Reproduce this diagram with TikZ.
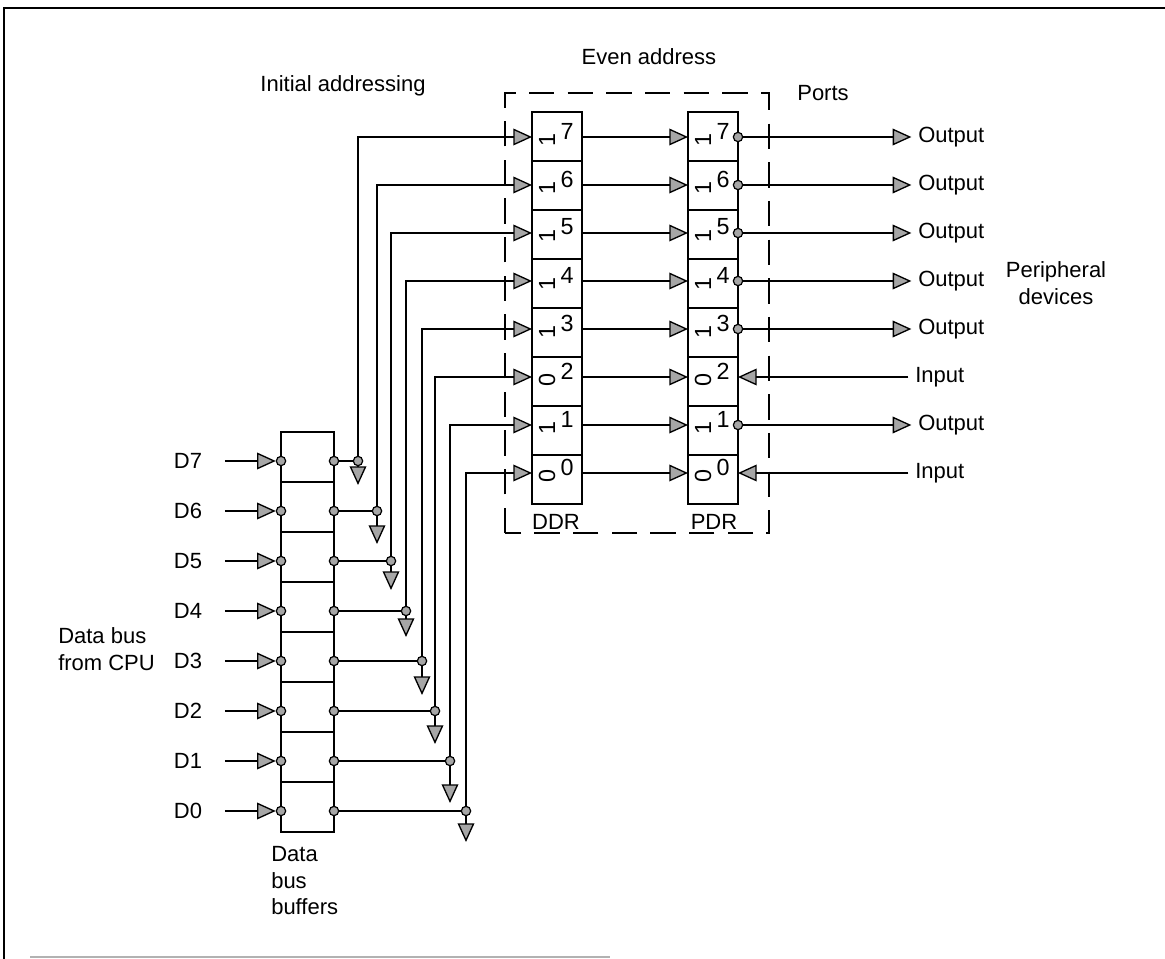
\documentclass[tikz,border=0pt]{standalone}
\usepackage{fontspec}
\setmainfont{Liberation Sans}
\usetikzlibrary{arrows.meta}
\begin{document}
\begin{tikzpicture}[x=0.75pt,y=-0.75pt,
  wire/.style={line width=1.7pt},
  tri/.style={-{Triangle[length=14pt,width=12.5pt,fill=gray!70,line width=1pt]}},
  pin/.style={circle,draw,fill=gray!70,line width=0.9pt,inner sep=0pt,minimum size=7pt},
  cell/.style={draw,line width=2pt,minimum width=37.5pt,minimum height=36.75pt,inner sep=0pt},
  bcell/.style={draw,line width=2pt,minimum width=39.75pt,minimum height=37.5pt,inner sep=0pt},
  lbl/.style={font=\fontsize{16.5}{20}\selectfont,inner sep=0pt},
  bitf/.style={font=\fontsize{17.5}{21}\selectfont,inner sep=0pt},
  dashbox/.style={line width=1.8pt,dash pattern=on 19pt off 10pt}
]
\useasboundingbox (0,0) rectangle (1165,959);
% frame
\draw[line width=2pt] (1165,8) -- (4,8) -- (4,959);
\draw[line width=1pt,gray!60] (30,957) -- (610,957);

% titles
\node[lbl] (even) at (649,57) {Even address};
\node[lbl] (init) at (343,86) {Initial addressing};
\node[lbl] (ports) at (823,93) {Ports};
\node[lbl,align=center] (periph) at (1056,283) {Peripheral\\devices};
\node[lbl,align=left,anchor=west] (cpu) at (58,649) {Data bus\\from CPU};
\node[lbl,align=left,anchor=north west] (bufl) at (271,846) {Data\\bus\\buffers};
\node[lbl] (ddrl) at (556,522) {DDR};
\node[lbl] (pdrl) at (714,522) {PDR};

% dashed box
\draw[dashbox] (505,533) -- (505,93) -- (769,93) -- (769,533) -- cycle;

\foreach \i/\b/\off/\jx in {7/1/6/358, 6/1/15/377, 5/1/11/391, 4/1/8/406, 3/1/16/422, 2/0/15/435, 1/1/24/450, 0/0/13/466}{
  \pgfmathsetmacro{\ry}{137+(7-\i)*48}
  \pgfmathsetmacro{\cy}{136.5+(7-\i)*49}
  \pgfmathsetmacro{\by}{461+(7-\i)*50}
  \pgfmathsetmacro{\bc}{457+(7-\i)*50}
  % register cells
  \node[cell] (ddr\i) at (557,\cy) {};
  \node[cell] (pdr\i) at (713,\cy) {};
  \node[bitf,rotate=90] (ddrb\i) at (547,{\ry+3}) {\b};
  \node[bitf] (ddrn\i) at (567,{\ry-6}) {\i};
  \node[bitf,rotate=90] (pdrb\i) at (703,{\ry+3}) {\b};
  \node[bitf] (pdrn\i) at (723,{\ry-6}) {\i};
  \coordinate (ddrL\i) at (532,\ry);
  \coordinate (ddrR\i) at (582,\ry);
  \coordinate (pdrL\i) at (688,\ry);
  \coordinate (pdrR\i) at (738,\ry);
  % buffer
  \node[bcell] (buf\i) at (307.5,\bc) {};
  \node[lbl] (d\i) at (188,\by) {D\i};
  \node[pin] (bi\i) at (281,\by) {};
  \node[pin] (bo\i) at (334,\by) {};
  \node[pin] (j\i) at (\jx,\by) {};
  \coordinate (dn\i) at (\jx,{\by+\off+18});
  \draw[wire,tri,shorten <=17pt] (d\i.east) -- (bi\i);
  \draw[wire] (bo\i) -- (j\i);
  \draw[wire,tri] (j\i) |- (ddrL\i);
  \draw[wire,tri] (j\i) -- (dn\i);
  \draw[wire,tri] (ddrR\i) -- (pdrL\i);
}

% outputs
\foreach \i in {7,6,5,4,3,1}{
  \pgfmathsetmacro{\ry}{137+(7-\i)*48}
  \node[pin] (pr\i) at (738,\ry) {};
  \node[lbl,anchor=west] (out\i) at (918,\ry) {Output};
  \draw[wire,tri,shorten >=5pt] (pr\i) -- (out\i.west);
}
% inputs
\foreach \i in {2,0}{
  \pgfmathsetmacro{\ry}{137+(7-\i)*48}
  \node[lbl,anchor=west] (in\i) at (915,\ry) {Input};
  \draw[wire,tri,shorten <=5pt] (in\i.west) -- (pdrR\i);
}
\end{tikzpicture}
\end{document}
